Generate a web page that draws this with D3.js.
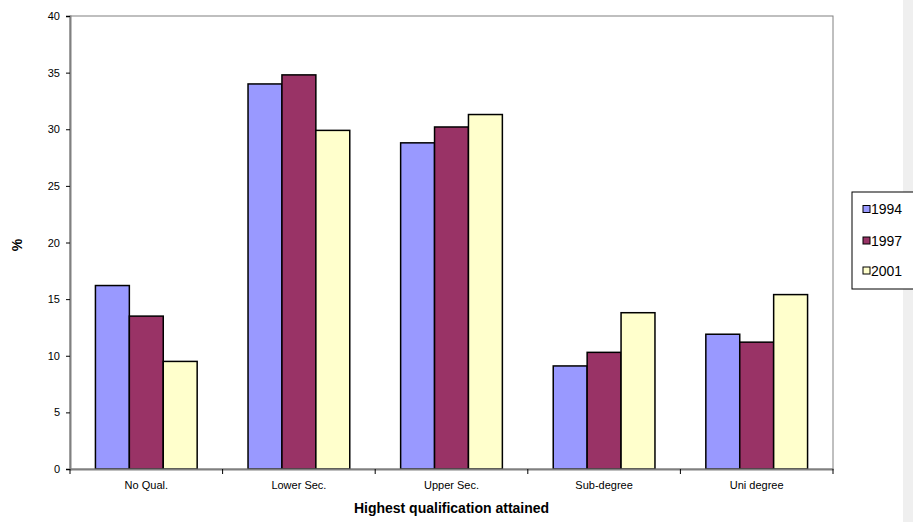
<!DOCTYPE html>
<html><head><meta charset="utf-8">
<script src="https://cdn.jsdelivr.net/npm/d3@7"></script>
<style>body{margin:0;background:#fff;} svg{display:block;font-family:"Liberation Sans",Arial,sans-serif;}</style>
</head><body>
<script>
const categories = ["No Qual.", "Lower Sec.", "Upper Sec.", "Sub-degree", "Uni degree"];
const seriesNames = ["1994", "1997", "2001"];
const v1994 = [16.2, 34.0, 28.8, 9.1, 11.9];
const v1997 = [13.5, 34.8, 30.2, 10.3, 11.2];
const v2001 = [9.5, 29.9, 31.3, 13.8, 15.4];
const colors = ["#9999ff", "#993366", "#ffffcc"];
const yTicks = [0, 5, 10, 15, 20, 25, 30, 35, 40];

const W = 913, H = 522;
const svg = d3.select("body").append("svg").attr("width", W).attr("height", H);
svg.append("rect").attr("x", 903).attr("y", 0).attr("width", 10).attr("height", H).attr("fill", "#efefef");

const L = 70, R = 833, T = 16, B = 469;
const x = d3.scaleBand().domain(categories).range([L, R]).paddingInner(0).paddingOuter(0);
const y = d3.scaleLinear().domain([0, 40]).range([B, T]);
const data = [v1994, v1997, v2001];
const barW = x.bandwidth() / 4.5;
const gap = (x.bandwidth() - 3 * barW) / 2;

// plot frame
svg.append("rect").attr("x", L).attr("y", T).attr("width", R - L).attr("height", B - T)
  .attr("fill", "none").attr("stroke", "#808080").attr("stroke-width", 1);

// bars
seriesNames.forEach((s, si) => {
  svg.append("g").selectAll("rect").data(categories).join("rect")
    .attr("x", c => x(c) + gap + si * barW)
    .attr("y", (c, i) => y(data[si][i]))
    .attr("width", barW)
    .attr("height", (c, i) => B - y(data[si][i]))
    .attr("fill", colors[si]).attr("stroke", "#000").attr("stroke-width", 1.5);
});

// y axis
const ya = svg.append("g").attr("transform", `translate(${L},0)`)
  .call(d3.axisLeft(y).tickValues(yTicks).tickSize(4).tickPadding(6));
ya.select(".domain").attr("stroke", "#808080").attr("stroke-width", 2);
ya.selectAll(".tick line").attr("stroke", "#000");
ya.selectAll("text").attr("font-size", 11).attr("fill", "#000").attr("font-family", "Liberation Sans, Arial, sans-serif");

// x axis
const xa = svg.append("g").attr("transform", `translate(0,${B})`)
  .call(d3.axisBottom(x).tickSize(0).tickPadding(12));
xa.select(".domain").attr("stroke", "#808080").attr("stroke-width", 2);
xa.selectAll("text").attr("font-size", 11).attr("fill", "#000").attr("font-family", "Liberation Sans, Arial, sans-serif");
const bounds = categories.map(c => x(c)).concat([R]);
svg.append("g").selectAll("line").data(bounds).join("line")
  .attr("x1", d => d).attr("x2", d => d).attr("y1", B).attr("y2", B + 5).attr("stroke", "#000");

// axis titles
svg.append("text").attr("x", (L + R) / 2).attr("y", 513).attr("text-anchor", "middle")
  .attr("font-size", 14).attr("font-weight", "bold").text("Highest qualification attained");
svg.append("text").attr("transform", "translate(22,245) rotate(-90)").attr("text-anchor", "middle")
  .attr("font-size", 14).attr("font-weight", "bold").text("%");

// legend
const lg = svg.append("g");
lg.append("rect").attr("x", 852).attr("y", 192).attr("width", 70).attr("height", 97)
  .attr("fill", "#fff").attr("stroke", "#000");
const legY = [209, 240.5, 270.5];
seriesNames.forEach((s, i) => {
  lg.append("rect").attr("x", 863).attr("y", legY[i] - 3.5).attr("width", 7).attr("height", 7)
    .attr("fill", colors[i]).attr("stroke", "#000").attr("stroke-width", 1);
  lg.append("text").attr("x", 871).attr("y", legY[i] + 5).attr("font-size", 14).text(s);
});
</script>
</body></html>
